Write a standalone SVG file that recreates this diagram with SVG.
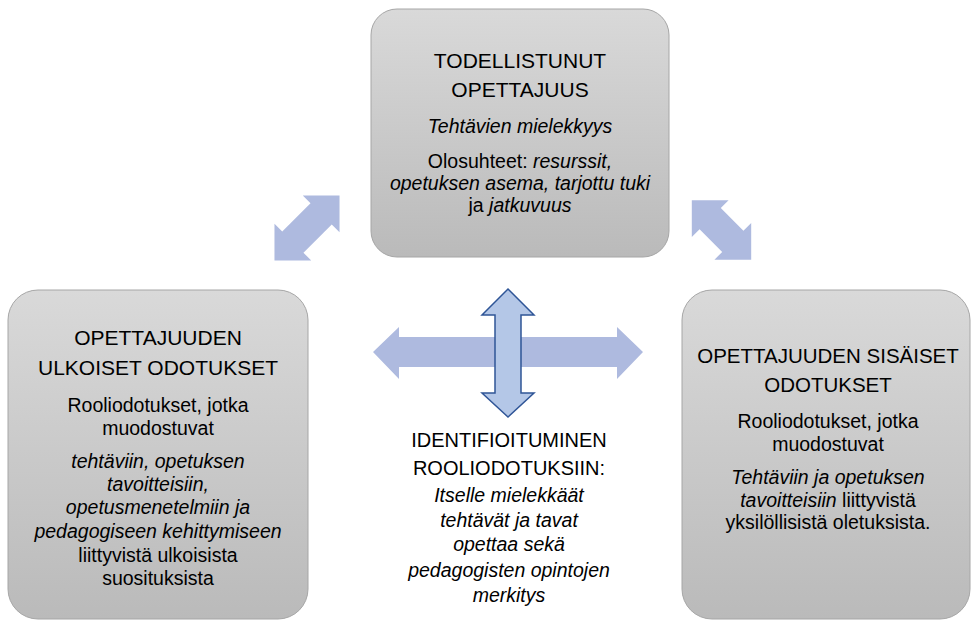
<svg xmlns="http://www.w3.org/2000/svg" width="974" height="621" viewBox="0 0 974 621">
<style>
text{font-family:"Liberation Sans",Arial,sans-serif;fill:#000;text-anchor:middle}
.t{font-size:21px}
.ct{font-size:20px}
.b{font-size:19.5px}
.i{font-style:italic}
.box{fill:url(#g);stroke:#a6a6a6;stroke-width:1}
.arr{fill:#aebadf}
.varr{fill:#b4c7e7;stroke:#2f5597;stroke-width:1.5;stroke-linejoin:miter}
</style>
<defs>
<linearGradient id="g" x1="0" y1="0" x2="0" y2="1">
<stop offset="0" stop-color="#d9d9d9"/>
<stop offset="1" stop-color="#bababa"/>
</linearGradient>
</defs>
<g id="connectors">
<path class="arr" transform="translate(307 228) rotate(-45)" d="M-46 0 L-20 -26 L-20 -15 L20 -15 L20 -26 L46 0 L20 26 L20 15 L-20 15 L-20 26 Z"/>
<path class="arr" transform="translate(721.5 230) rotate(45)" d="M-42 0 L-16 -26 L-16 -15 L16 -15 L16 -26 L42 0 L16 26 L16 15 L-16 15 L-16 26 Z"/>
<path class="arr" d="M373 352 L399 327 L399 337 L617 337 L617 327 L643 352 L617 379 L617 367 L399 367 L399 379 Z"/>
<path class="varr" d="M508 289 L534 315 L521 315 L521 393 L534 393 L508 417 L482 393 L495 393 L495 315 L482 315 Z"/>
</g>
<g id="top">
<rect class="box" x="371" y="9" width="298" height="248" rx="26"/>
<text class="t" x="520" y="68">TODELLISTUNUT</text>
<text class="t" x="520" y="97">OPETTAJUUS</text>
<text class="b i" x="520" y="133">Tehtävien mielekkyys</text>
<text class="b" x="520" y="168">Olosuhteet: <tspan class="i">resurssit,</tspan></text>
<text class="b i" x="520" y="190">opetuksen asema, tarjottu tuki</text>
<text class="b" x="520" y="212">ja <tspan class="i">jatkuvuus</tspan></text>
</g>
<g id="left">
<rect class="box" x="8" y="290" width="300" height="329" rx="30"/>
<text class="t" x="158" y="345">OPETTAJUUDEN</text>
<text class="t" x="158" y="375">ULKOISET ODOTUKSET</text>
<text class="b" x="158" y="412">Rooliodotukset, jotka</text>
<text class="b" x="158" y="435">muodostuvat</text>
<text class="b i" x="158" y="468">tehtäviin, opetuksen</text>
<text class="b i" x="158" y="491">tavoitteisiin,</text>
<text class="b i" x="158" y="514">opetusmenetelmiin ja</text>
<text class="b i" x="158" y="538">pedagogiseen kehittymiseen</text>
<text class="b" x="158" y="562">liittyvistä  ulkoisista</text>
<text class="b" x="158" y="585">suosituksista</text>
</g>
<g id="right">
<rect class="box" x="682" y="290" width="288" height="329" rx="30"/>
<text class="t" x="828" y="363" style="font-size:20.5px">OPETTAJUUDEN SISÄISET</text>
<text class="t" x="828" y="392" style="font-size:20.5px">ODOTUKSET</text>
<text class="b" x="828" y="428">Rooliodotukset, jotka</text>
<text class="b" x="828" y="451">muodostuvat</text>
<text class="b i" x="828" y="484">Tehtäviin ja opetuksen</text>
<text class="b" x="828" y="507"><tspan class="i">tavoitteisiin</tspan> liittyvistä</text>
<text class="b" x="828" y="529">yksilöllisistä oletuksista.</text>
</g>
<g id="center">
<text class="ct" x="509" y="447">IDENTIFIOITUMINEN</text>
<text class="ct" x="509" y="475">ROOLIODOTUKSIIN:</text>
<text class="b i" x="509" y="502">Itselle mielekkäät</text>
<text class="b i" x="509" y="527">tehtävät ja tavat</text>
<text class="b i" x="509" y="551">opettaa sekä</text>
<text class="b i" x="509" y="577">pedagogisten opintojen</text>
<text class="b i" x="509" y="602">merkitys</text>
</g>
</svg>
